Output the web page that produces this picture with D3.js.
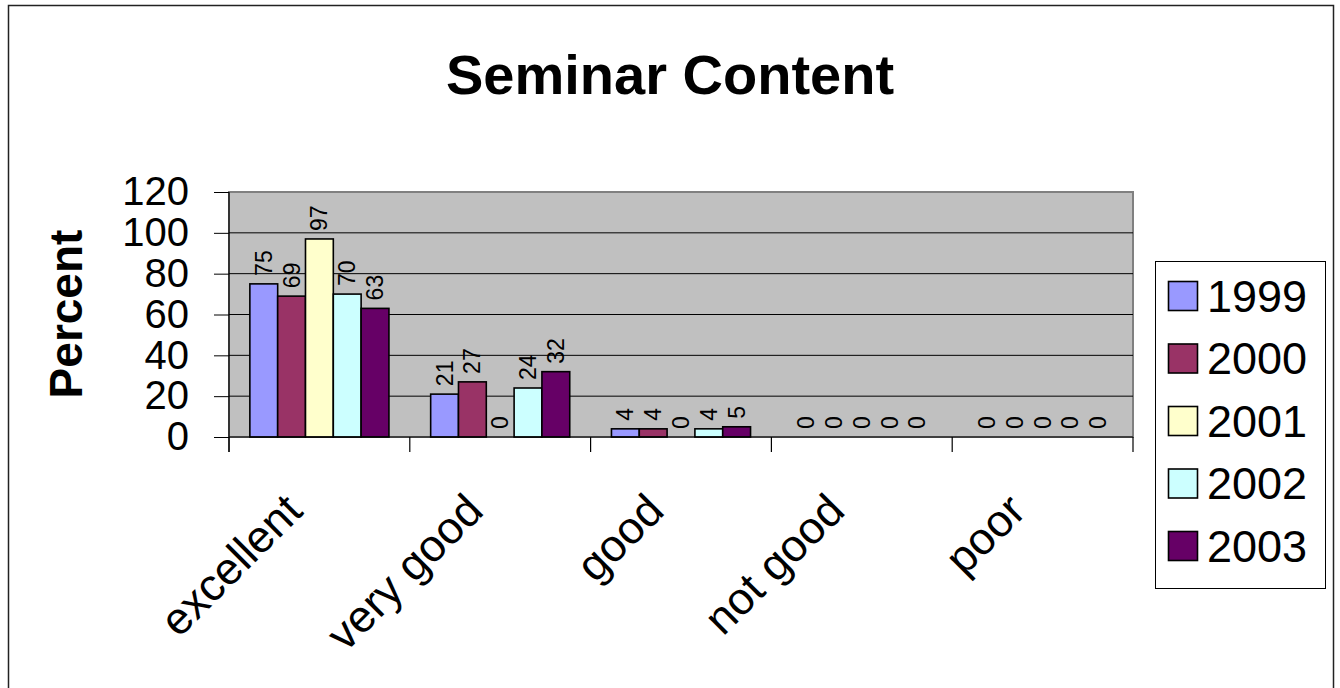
<!DOCTYPE html>
<html>
<head>
<meta charset="utf-8">
<script src="https://d3js.org/d3.v7.min.js"></script>
<style>
  html, body { margin: 0; padding: 0; background: #fff; }
  svg { display: block; }
  text { font-family: "Liberation Sans", Arial, sans-serif; fill: #000; }
</style>
</head>
<body>
<svg id="chart" width="1340" height="688"></svg>
<script>
const categories = ["excellent", "very good", "good", "not good", "poor"];
const years = ["1999", "2000", "2001", "2002", "2003"];
const values1999 = [75, 21, 4, 0, 0];
const values2000 = [69, 27, 4, 0, 0];
const values2001 = [97, 0, 0, 0, 0];
const values2002 = [70, 24, 4, 0, 0];
const values2003 = [63, 32, 5, 0, 0];
const yTicks = [0, 20, 40, 60, 80, 100, 120];
const colors = ["#9999FF", "#993366", "#FFFFCC", "#CCFFFF", "#660066"];
const titleText = "Seminar Content";
const yLabel = "Percent";

const seriesValues = [values1999, values2000, values2001, values2002, values2003];
const series = years.map((yr, i) => ({ year: yr, color: colors[i], values: seriesValues[i] }));

const svg = d3.select("#chart");

// outer chart border
svg.append("rect")
  .attr("x", 8.5).attr("y", 5.5).attr("width", 1325).attr("height", 700)
  .attr("fill", "#fff").attr("stroke", "#222").attr("stroke-width", 1.5);

const plot = { left: 229, top: 192, right: 1133, bottom: 437 };

const x0 = d3.scaleBand().domain(categories).range([plot.left, plot.right]).paddingInner(0).paddingOuter(0);
const step = x0.bandwidth();
const barW = step / 6.5;
const x1 = d3.scaleBand().domain(years).range([barW * 0.75, barW * 0.75 + barW * 5]).padding(0);
const y = d3.scaleLinear().domain([0, 120]).range([plot.bottom, plot.top]);

// plot area background
svg.append("rect")
  .attr("x", plot.left).attr("y", plot.top)
  .attr("width", plot.right - plot.left).attr("height", plot.bottom - plot.top)
  .attr("fill", "#C0C0C0").attr("stroke", "#808080").attr("stroke-width", 2);

// gridlines
svg.append("g").selectAll("line")
  .data(yTicks.filter(t => t > 0 && t < 120))
  .join("line")
  .attr("x1", plot.left).attr("x2", plot.right)
  .attr("y1", d => y(d)).attr("y2", d => y(d))
  .attr("stroke", "#000").attr("stroke-width", 1);

// bars
const groups = svg.append("g").selectAll("g")
  .data(series)
  .join("g");

groups.selectAll("rect")
  .data(s => s.values.map((v, i) => ({ v, cat: categories[i], year: s.year, color: s.color })))
  .join("rect")
  .attr("x", d => x0(d.cat) + x1(d.year))
  .attr("y", d => y(d.v))
  .attr("width", x1.bandwidth())
  .attr("height", d => y(0) - y(d.v))
  .attr("fill", d => d.color)
  .attr("stroke", d => d.v > 0 ? "#000" : "none")
  .attr("stroke-width", 1.6);

// data labels
groups.selectAll("text")
  .data(s => s.values.map((v, i) => ({ v, cat: categories[i], year: s.year })))
  .join("text")
  .attr("transform", d => `translate(${x0(d.cat) + x1(d.year) + x1.bandwidth() / 2},${y(d.v) - 8}) rotate(-90)`)
  .attr("text-anchor", "start")
  .attr("dy", "0.35em")
  .style("font-size", "23px")
  .text(d => d.v);

// y axis
const yAxis = d3.axisLeft(y).tickValues(yTicks).tickSize(15).tickPadding(25).tickFormat(d3.format("d"));
const yg = svg.append("g").attr("transform", `translate(${plot.left},0)`).call(yAxis);
yg.select(".domain").remove();
yg.selectAll(".tick line").attr("stroke", "#000").attr("stroke-width", 1);
yg.selectAll(".tick text").style("font-size", "40px").style("font-family", "'Liberation Sans', Arial, sans-serif").attr("fill", "#000");

// axis lines
svg.append("line").attr("x1", plot.left).attr("x2", plot.left).attr("y1", plot.top).attr("y2", plot.bottom + 15)
  .attr("stroke", "#000").attr("stroke-width", 1.2);
svg.append("line").attr("x1", plot.left).attr("x2", plot.right).attr("y1", plot.bottom).attr("y2", plot.bottom)
  .attr("stroke", "#000").attr("stroke-width", 1.2);

// category ticks at boundaries
const boundaries = categories.map(c => x0(c)).concat([x0(categories[categories.length - 1]) + step]);
svg.append("g").selectAll("line")
  .data(boundaries)
  .join("line")
  .attr("x1", d => d).attr("x2", d => d)
  .attr("y1", plot.bottom).attr("y2", plot.bottom + 15)
  .attr("stroke", "#000").attr("stroke-width", 1.2);

// category labels
svg.append("g").selectAll("text")
  .data(categories)
  .join("text")
  .attr("transform", d => `translate(${x0(d) + step / 2 - 26},${plot.bottom + 65}) rotate(-45)`)
  .attr("text-anchor", "end")
  .attr("dy", "0.35em")
  .style("font-size", "45px")
  .text(d => d);

// title
svg.append("text")
  .attr("x", 670).attr("y", 94)
  .attr("text-anchor", "middle")
  .style("font-size", "56px").style("font-weight", "bold")
  .text(titleText);

// y label
svg.append("text")
  .attr("transform", "translate(82,314) rotate(-90)")
  .attr("text-anchor", "middle")
  .style("font-size", "46px").style("font-weight", "bold")
  .text(yLabel);

// legend
const legend = svg.append("g");
legend.append("rect")
  .attr("x", 1155.5).attr("y", 261.5).attr("width", 170).attr("height", 327)
  .attr("fill", "#fff").attr("stroke", "#000").attr("stroke-width", 1);
const legendY = d3.scalePoint().domain(years).range([295.5, 545.5]);
const items = legend.selectAll("g.item")
  .data(series)
  .join("g").attr("class", "item")
  .attr("transform", d => `translate(0,${legendY(d.year)})`);
items.append("rect")
  .attr("x", 1168.5).attr("y", -14).attr("width", 29).attr("height", 29)
  .attr("fill", d => d.color).attr("stroke", "#000").attr("stroke-width", 1.6);
items.append("text")
  .attr("x", 1207).attr("y", 0).attr("dy", "0.36em")
  .style("font-size", "45px")
  .text(d => d.year);
</script>
</body>
</html>
